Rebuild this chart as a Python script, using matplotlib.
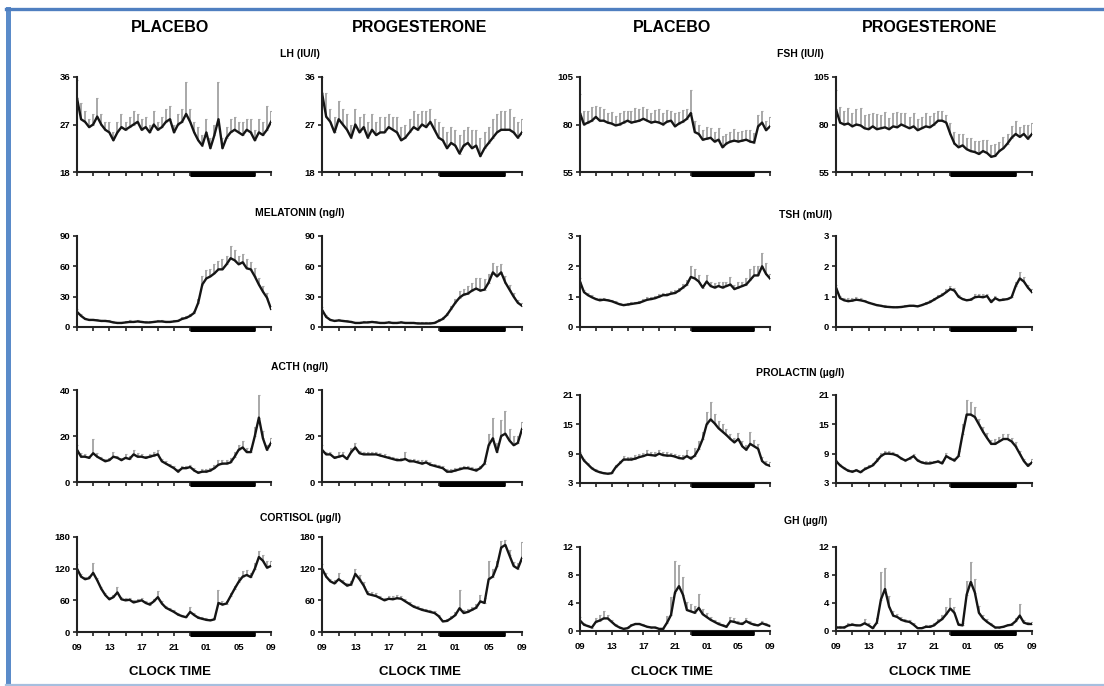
import matplotlib.pyplot as plt
import numpy as np
from matplotlib.lines import Line2D
import matplotlib.transforms as mtransforms

plt.rcParams['font.family'] = ['Liberation Sans', 'DejaVu Sans']
plt.rcParams['font.weight'] = 'bold'

# sampling grid: hours after 09:00, every 30 min
t = np.arange(49) * 0.5
clock_labels = ['09', '13', '17', '21', '01', '05', '09']
night = (14, 22)  # lights off 23:00 - 07:00

lh_pla = [32, 28, 27.5, 26.5, 27, 28.5, 27, 26, 25.5, 24, 25.5, 26.5, 26, 26.5, 27, 27.5, 26,
          26.5, 25.5, 27, 26, 26.5, 27.5, 28, 25.5, 27, 27.5, 29, 27.5, 25.5, 24, 23, 25.5, 22.5,
          25, 28, 22.5, 24.5, 25.5, 26, 25.5, 25, 26, 25.5, 24, 25.5, 25, 26, 27.5]
lh_pla_sem = [3.5, 3, 2, 1.5, 2, 3.5, 2, 1.5, 2, 1.5, 2, 2.5, 1.5, 2, 2.5, 1.5, 2, 2, 1.5, 2.5,
              1.5, 2, 2.5, 2.5, 1.5, 2, 2.5, 6, 2.5, 2, 2.5, 2, 2.5, 2, 2, 7, 2, 2, 2.5, 2.5, 2,
              2.5, 2, 2.5, 2, 2.5, 2.5, 4.5, 2]
lh_pro = [33, 28.5, 27.5, 25.5, 28, 27, 26, 24.5, 27, 25.5, 26.5, 24.5, 26, 25, 25.5, 25.5, 26.5,
          26, 25.5, 24, 24.5, 25.5, 26.5, 26, 27, 26.5, 27.5, 26, 24.5, 24, 22.5, 23.5, 23, 21.5,
          23, 23.5, 22.5, 23, 21, 22.5, 23.5, 24.5, 25.5, 26, 26, 26, 25.5, 24.5, 25.5]
lh_pro_sem = [3, 4.5, 2.5, 3, 3.5, 3, 3, 2.5, 3, 3, 2.5, 3, 3, 2.5, 3, 3, 2.5, 2.5, 3, 2.5, 2.5,
              2.5, 3, 3, 2.5, 3, 2.5, 2, 3, 2.5, 3, 3, 3, 3.5, 3, 3, 3.5, 3, 3.5, 3, 3, 3.5, 3.5,
              3.5, 3.5, 4, 3, 3, 2.5]

fsh_pla = [86, 80, 81, 82, 84, 82, 82, 81, 80.5, 79.5, 80, 81, 82, 81, 81.5, 82, 83, 82, 81,
           81.5, 81, 80, 81.5, 82, 79, 80.5, 81.5, 83, 86, 76, 75, 72, 72.5, 73, 71, 72, 68, 70,
           71, 71.5, 71, 71.5, 72, 71, 70.5, 79, 81, 77, 79]
fsh_pla_sem = [10, 7, 6, 7, 6, 7, 6, 5, 6, 5, 6, 6, 5, 6, 7, 6, 6, 6, 5, 6, 7, 6, 6, 5, 7, 6, 6,
               5, 12, 6, 5, 5, 6, 5, 5, 6, 6, 5, 5, 6, 5, 5, 5, 6, 5, 6, 6, 5, 5]
fsh_pro = [88, 81, 80, 80.5, 79, 80, 79.5, 78, 77.5, 79, 77.5, 78, 78.5, 77.5, 79, 78.5, 80, 79,
           78, 79, 77, 78, 79, 78.5, 80, 82, 82, 81, 75, 70, 68, 69, 67, 66, 65.5, 64.5, 66, 65,
           63, 63.5, 66, 67.5, 70, 73, 75, 73.5, 75, 72.5, 75]
fsh_pro_sem = [10, 8, 7, 8, 7, 8, 9, 7, 8, 7, 8, 7, 8, 6, 7, 8, 6, 7, 6, 7, 6, 6, 7, 6, 6, 5, 5,
               4, 6, 6, 7, 6, 6, 7, 6, 7, 6, 7, 6, 6, 5, 6, 5, 6, 7, 5, 5, 7, 6]

mel_pla = [15, 11, 8, 7, 7, 6.5, 6, 6, 5.5, 4.5, 4, 4, 4.5, 5, 5, 5.5, 5, 4.5, 4.5, 5, 5.5, 5.5,
           5, 5, 5.5, 6, 8, 9, 11, 14, 24, 42, 48, 50, 53, 57, 57, 62, 68, 66, 62, 64, 58, 57, 50,
           42, 35, 29, 18]
mel_pla_sem = [3, 2, 1, 1, 1, 1, 1, 1, 1, 1, 1, 1, 1, 1.5, 1, 1, 1, 1, 1, 1, 1, 1, 1, 1, 1, 1,
               1.5, 1.5, 2, 2, 4, 8, 8, 7, 9, 8, 10, 8, 12, 10, 8, 8, 9, 7, 8, 6, 6, 5, 3]
mel_pro = [17, 10, 7, 6, 6.5, 6, 5.5, 5, 4, 4, 4.5, 4.5, 5, 4.5, 4, 4, 4.5, 4, 4, 4.5, 4, 4, 4,
           3.5, 3.5, 3.5, 3.5, 4, 6, 8, 12, 18, 24, 29, 32, 33, 36, 38, 36, 37, 44, 54, 50, 54,
           44, 37, 30, 24, 21]
mel_pro_sem = [3, 2, 1, 1, 1, 1, 1, 1, 1, 1, 1, 1, 1, 1, 1, 1, 1, 1, 1, 1, 1, 1, 1, 1, 1, 1, 1,
               1, 1.5, 2, 2, 3, 4, 7, 6, 8, 8, 10, 12, 10, 8, 9, 10, 8, 6, 5, 4, 3, 3]

tsh_pla = [1.5, 1.15, 1.05, 0.98, 0.92, 0.88, 0.9, 0.88, 0.85, 0.8, 0.75, 0.72, 0.74, 0.76, 0.78,
           0.8, 0.85, 0.9, 0.92, 0.95, 1.0, 1.05, 1.05, 1.1, 1.12, 1.2, 1.3, 1.4, 1.65, 1.6, 1.5,
           1.3, 1.5, 1.35, 1.3, 1.35, 1.3, 1.35, 1.4, 1.25, 1.3, 1.35, 1.4, 1.55, 1.7, 1.7, 2.0,
           1.75, 1.6]
tsh_pla_sem = [0.1, 0.08, 0.06, 0.06, 0.05, 0.06, 0.05, 0.05, 0.05, 0.05, 0.04, 0.04, 0.05, 0.05,
               0.06, 0.06, 0.06, 0.08, 0.07, 0.08, 0.08, 0.08, 0.08, 0.08, 0.1, 0.1, 0.12, 0.15,
               0.35, 0.3, 0.2, 0.1, 0.2, 0.15, 0.15, 0.12, 0.2, 0.15, 0.25, 0.15, 0.2, 0.15, 0.2,
               0.35, 0.3, 0.3, 0.45, 0.35, 0.15]
tsh_pro = [1.3, 0.95, 0.88, 0.85, 0.87, 0.9, 0.88, 0.85, 0.8, 0.76, 0.72, 0.7, 0.67, 0.66, 0.65,
           0.65, 0.66, 0.68, 0.7, 0.7, 0.68, 0.72, 0.77, 0.82, 0.9, 0.98, 1.05, 1.15, 1.25, 1.2,
           1.0, 0.92, 0.88, 0.9, 0.98, 1.0, 0.98, 1.02, 0.82, 0.95, 0.88, 0.9, 0.92, 0.98, 1.35,
           1.6, 1.5, 1.3, 1.15]
tsh_pro_sem = [0.1, 0.06, 0.08, 0.1, 0.1, 0.08, 0.06, 0.05, 0.04, 0.04, 0.04, 0.04, 0.04, 0.04,
               0.04, 0.04, 0.04, 0.04, 0.04, 0.04, 0.04, 0.04, 0.05, 0.06, 0.06, 0.06, 0.08, 0.1,
               0.1, 0.08, 0.05, 0.05, 0.05, 0.06, 0.1, 0.08, 0.1, 0.08, 0.1, 0.08, 0.05, 0.05,
               0.05, 0.08, 0.15, 0.2, 0.15, 0.1, 0.1]

acth_pla = [14, 11, 11, 10.5, 12.5, 11, 10, 9, 9.5, 11, 10.5, 9.5, 10.5, 10, 12, 11, 11, 10.5,
            11, 11.5, 12, 9, 8, 7, 6, 4.5, 6, 6, 6.5, 5, 4, 4.5, 4.5, 5, 6, 7.5, 8, 8, 8.5, 11,
            14, 15, 13, 13, 20, 28, 19, 14, 17]
acth_pla_sem = [2, 1.5, 1, 1, 6, 1.5, 1, 1, 1, 2, 1, 1, 1.5, 1.5, 2, 1.5, 1, 1, 1, 1.5, 2, 1, 1,
                1, 1, 1, 1, 1, 1, 1, 1, 1, 1, 1, 1.5, 2, 1.5, 1.5, 2, 2, 2, 3, 2, 2, 4, 10, 3, 2, 2]
acth_pro = [14, 12, 12, 10.5, 11, 11.5, 10, 13, 15, 12.5, 12, 12, 12, 12, 11.5, 11, 10.5, 10,
            9.5, 9.5, 10, 9, 9, 8.5, 8, 8.5, 7.5, 7, 6.5, 6, 4.5, 4.5, 5, 5.5, 6, 6, 5.5, 5, 6, 8,
            16, 19, 13, 20, 21, 18, 16, 17, 23]
acth_pro_sem = [2, 1, 1, 1, 2, 1.5, 1, 2, 2, 1, 1, 1, 1, 1, 1, 1, 1, 1, 1, 1, 3, 1, 1, 1, 1.5, 1,
                1, 1, 1, 1, 1, 1, 1, 1, 1, 1, 1, 1, 1, 1, 5, 9, 4, 7, 10, 5, 4, 3, 3]

prl_pla = [9, 7.6, 6.8, 6, 5.5, 5.2, 5, 4.9, 5, 6.2, 7, 7.8, 7.8, 7.8, 8, 8.3, 8.5, 8.8, 8.7,
           8.6, 9, 8.7, 8.6, 8.6, 8.4, 8.1, 8, 8.5, 8, 8.6, 10, 12, 15, 16, 15.2, 14.2, 13.5,
           12.8, 12, 11.3, 12, 10.5, 9.8, 11, 10.5, 10, 7.5, 6.8, 6.5]
prl_pla_sem = [0.3, 0.3, 0.3, 0.3, 0.3, 0.2, 0.2, 0.2, 0.3, 0.5, 0.6, 0.8, 0.6, 0.6, 0.7, 0.7,
               0.7, 1, 0.6, 0.7, 0.8, 0.6, 0.7, 0.6, 0.6, 0.6, 0.7, 1.2, 0.6, 1.5, 1.5, 1.5, 2.5,
               3.5, 2, 1.5, 1.5, 1.2, 1, 1, 1.2, 1, 1, 2.5, 1.2, 1, 0.8, 0.6, 0.8]
prl_pro = [7.5, 6.6, 6, 5.5, 5.3, 5.6, 5.2, 5.8, 6.2, 6.6, 7.5, 8.5, 9, 9, 8.9, 8.6, 8, 7.6, 8,
           8.5, 7.6, 7.2, 7, 7, 7.2, 7.4, 7, 8.5, 8, 7.6, 8.5, 13, 17, 17, 16.5, 15, 13.5, 12.2,
           11, 11, 11.5, 12, 12, 11.5, 10.5, 9, 7.5, 6.5, 7.2]
prl_pro_sem = [0.3, 0.3, 0.3, 0.3, 0.3, 0.3, 0.3, 0.4, 0.4, 0.5, 0.6, 0.6, 0.5, 0.5, 0.5, 0.4,
               0.4, 0.4, 0.4, 0.5, 0.4, 0.4, 0.4, 0.4, 0.4, 0.4, 0.4, 0.6, 0.4, 0.5, 1, 2, 3, 2.5,
               2, 1, 1, 1, 0.8, 1, 1, 1, 1, 0.8, 0.8, 0.6, 0.5, 0.5, 0.8]

cort_pla = [120, 105, 100, 102, 112, 98, 82, 70, 62, 66, 75, 62, 60, 61, 56, 58, 60, 55, 52, 58,
            66, 54, 46, 42, 38, 33, 30, 28, 38, 32, 27, 25, 23, 22, 24, 55, 52, 54, 68, 82, 95,
            105, 108, 104, 120, 142, 135, 122, 125]
cort_pla_sem = [8, 5, 4, 5, 18, 5, 4, 4, 4, 5, 10, 5, 4, 4, 4, 4, 5, 4, 4, 4, 12, 4, 4, 3, 3, 3,
                3, 3, 10, 4, 3, 3, 3, 3, 3, 25, 6, 5, 5, 6, 10, 10, 10, 8, 10, 12, 10, 12, 10]
cort_pro = [120, 105, 96, 92, 100, 94, 88, 90, 110, 100, 88, 72, 70, 68, 64, 60, 63, 62, 64, 63,
            58, 53, 48, 45, 42, 40, 38, 36, 30, 20, 21, 26, 32, 45, 36, 38, 42, 46, 58, 55, 100,
            105, 125, 160, 165, 145, 125, 120, 140]
cort_pro_sem = [8, 6, 5, 6, 12, 5, 5, 6, 10, 8, 6, 5, 6, 5, 5, 5, 5, 6, 6, 5, 5, 4, 4, 4, 4, 4, 3,
                3, 3, 3, 3, 4, 5, 35, 6, 6, 6, 8, 12, 10, 35, 15, 10, 12, 10, 10, 8, 10, 30]

gh_pla = [1.5, 0.9, 0.7, 0.5, 1.3, 1.5, 1.8, 1.8, 1.3, 0.8, 0.5, 0.3, 0.4, 0.8, 1.0, 1.0, 0.8,
          0.6, 0.5, 0.5, 0.3, 0.3, 1.2, 2.3, 5.5, 6.4, 5.2, 3.0, 2.8, 2.6, 3.3, 2.4, 2.0, 1.6,
          1.3, 1.0, 0.8, 0.6, 1.4, 1.3, 1.1, 1.0, 1.4, 1.1, 0.9, 0.8, 1.1, 0.9, 0.7]
gh_pla_sem = [0.5, 0.3, 0.2, 0.2, 0.5, 0.8, 1, 0.5, 0.3, 0.2, 0.1, 0.1, 0.1, 0.2, 0.2, 0.2, 0.2,
              0.1, 0.1, 0.1, 0.1, 0.1, 1, 2.5, 4.5, 3, 2.5, 1.2, 1, 1, 2, 0.8, 0.6, 0.4, 0.3, 0.3,
              0.2, 0.2, 0.6, 0.5, 0.3, 0.3, 0.5, 0.3, 0.3, 0.2, 0.3, 0.3, 0.2]
gh_pro = [0.5, 0.5, 0.5, 0.8, 0.9, 0.8, 0.8, 1.1, 0.8, 0.4, 1.2, 4.5, 6.0, 3.5, 2.2, 2.0, 1.6,
          1.4, 1.3, 0.9, 0.4, 0.4, 0.6, 0.6, 0.8, 1.3, 1.7, 2.4, 3.2, 2.6, 0.9, 0.8, 5.2, 7.0,
          5.5, 2.6, 1.8, 1.3, 0.9, 0.5, 0.5, 0.6, 0.8, 0.9, 1.4, 2.2, 1.2, 1.0, 1.0]
gh_pro_sem = [0.2, 0.2, 0.2, 0.4, 0.3, 0.2, 0.2, 0.6, 0.3, 0.2, 0.6, 4, 3, 1.5, 0.6, 0.5, 0.4,
              0.3, 0.3, 0.2, 0.1, 0.1, 0.2, 0.2, 0.3, 0.4, 0.6, 1, 1.5, 0.8, 0.3, 0.3, 2, 2.8, 2,
              1, 0.5, 0.4, 0.2, 0.1, 0.1, 0.1, 0.2, 0.2, 0.4, 1.6, 0.4, 0.3, 0.3]

hormone_titles = ['LH (IU/l)', 'FSH (IU/l)', 'MELATONIN (ng/l)', 'TSH (mU/l)',
                  'ACTH (ng/l)', 'PROLACTIN (µg/l)', 'CORTISOL (µg/l)', 'GH (µg/l)']
group_titles = ['PLACEBO', 'PROGESTERONE', 'PLACEBO', 'PROGESTERONE']

# figure in pixels
W, H = 1104, 686
fig = plt.figure(figsize=(W / 100, H / 100), dpi=100)

col_x = [(77, 271), (322, 522), (580, 770), (836, 1032)]
# (top, bottom) pixel rows for the left pair and the right pair
row_y = [((77, 172), (77, 172)),
         ((236, 327), (236, 327)),
         ((390, 482), (395, 483)),
         ((537, 632), (547, 631))]

panels = [
    (0, 0, lh_pla, lh_pla_sem, [18, 27, 36]),
    (0, 1, lh_pro, lh_pro_sem, [18, 27, 36]),
    (0, 2, fsh_pla, fsh_pla_sem, [55, 80, 105]),
    (0, 3, fsh_pro, fsh_pro_sem, [55, 80, 105]),
    (1, 0, mel_pla, mel_pla_sem, [0, 30, 60, 90]),
    (1, 1, mel_pro, mel_pro_sem, [0, 30, 60, 90]),
    (1, 2, tsh_pla, tsh_pla_sem, [0, 1, 2, 3]),
    (1, 3, tsh_pro, tsh_pro_sem, [0, 1, 2, 3]),
    (2, 0, acth_pla, acth_pla_sem, [0, 20, 40]),
    (2, 1, acth_pro, acth_pro_sem, [0, 20, 40]),
    (2, 2, prl_pla, prl_pla_sem, [3, 9, 15, 21]),
    (2, 3, prl_pro, prl_pro_sem, [3, 9, 15, 21]),
    (3, 0, cort_pla, cort_pla_sem, [0, 60, 120, 180]),
    (3, 1, cort_pro, cort_pro_sem, [0, 60, 120, 180]),
    (3, 2, gh_pla, gh_pla_sem, [0, 4, 8, 12]),
    (3, 3, gh_pro, gh_pro_sem, [0, 4, 8, 12]),
]

for row, col, mean, sem, yt in panels:
    x0, x1 = col_x[col]
    y0, y1 = row_y[row][col // 2]
    ax = fig.add_axes([x0 / W, 1 - y1 / H, (x1 - x0) / W, (y1 - y0) / H])
    ax.errorbar(t, mean, yerr=[np.zeros(len(sem)), sem], fmt='none', ecolor='#a8a8a8',
                elinewidth=1.4, capsize=1.0, capthick=0.8, zorder=1)
    ax.plot(t, mean, color='#151515', lw=1.7, zorder=2)
    ax.set_xlim(0, 24)
    ax.set_ylim(yt[0], yt[-1])
    ax.set_yticks(yt)
    ax.set_xticks(np.arange(0, 25, 4))
    ax.set_xticks(np.arange(2, 24, 4), minor=True)
    for s in ['top', 'right']:
        ax.spines[s].set_visible(False)
    for s in ['left', 'bottom']:
        ax.spines[s].set_linewidth(1.5)
        ax.spines[s].set_color('#222222')
    ax.tick_params(which='both', direction='out', length=3, width=1.2, color='#222222',
                   labelsize=6.8, pad=2)
    if row == 3:
        ax.set_xticklabels(clock_labels, fontsize=6.8, fontweight='bold')
        ax.tick_params(axis='x', pad=5)
    else:
        ax.set_xticklabels([])
    for lbl in ax.get_yticklabels():
        lbl.set_fontweight('bold')
    # lights-off bar below the time axis
    trans = mtransforms.blended_transform_factory(ax.transData, ax.transAxes)
    ax.plot(night, [-2.2 / (y1 - y0)] * 2, transform=trans, color='black', lw=3.6,
            solid_capstyle='butt', clip_on=False, zorder=5)

# column headers
for cx, g in zip([170, 420, 672, 930], group_titles):
    fig.text(cx / W, 1 - 27 / H, g, ha='center', va='center', fontsize=11.5, fontweight='bold')

# hormone titles
title_pos = [(300, 54), (800, 54), (300, 213), (806, 215),
             (300, 367), (800, 373), (300, 518), (806, 521)]
for (tx, ty), s in zip(title_pos, hormone_titles):
    fig.text(tx / W, 1 - ty / H, s, ha='center', va='center', fontsize=7.5, fontweight='bold')

# x-axis captions
for cx in [170, 420, 672, 930]:
    fig.text(cx / W, 1 - 672 / H, 'CLOCK TIME', ha='center', va='center', fontsize=9.5,
             fontweight='bold')

# blue slide frame
fig.add_artist(Line2D([7.5 / W, 7.5 / W], [1 - 9 / H, 1 - 684 / H], transform=fig.transFigure,
                      color='#5a8bc9', lw=3.6))
fig.add_artist(Line2D([6 / W, 1], [1 - 8.5 / H, 1 - 8.5 / H], transform=fig.transFigure,
                      color='#4f7fc0', lw=2.4))
fig.add_artist(Line2D([6 / W, 1], [1 - 684.5 / H, 1 - 684.5 / H], transform=fig.transFigure,
                      color='#a6bfdf', lw=1.6))

fig.savefig('out.png', dpi=100)
